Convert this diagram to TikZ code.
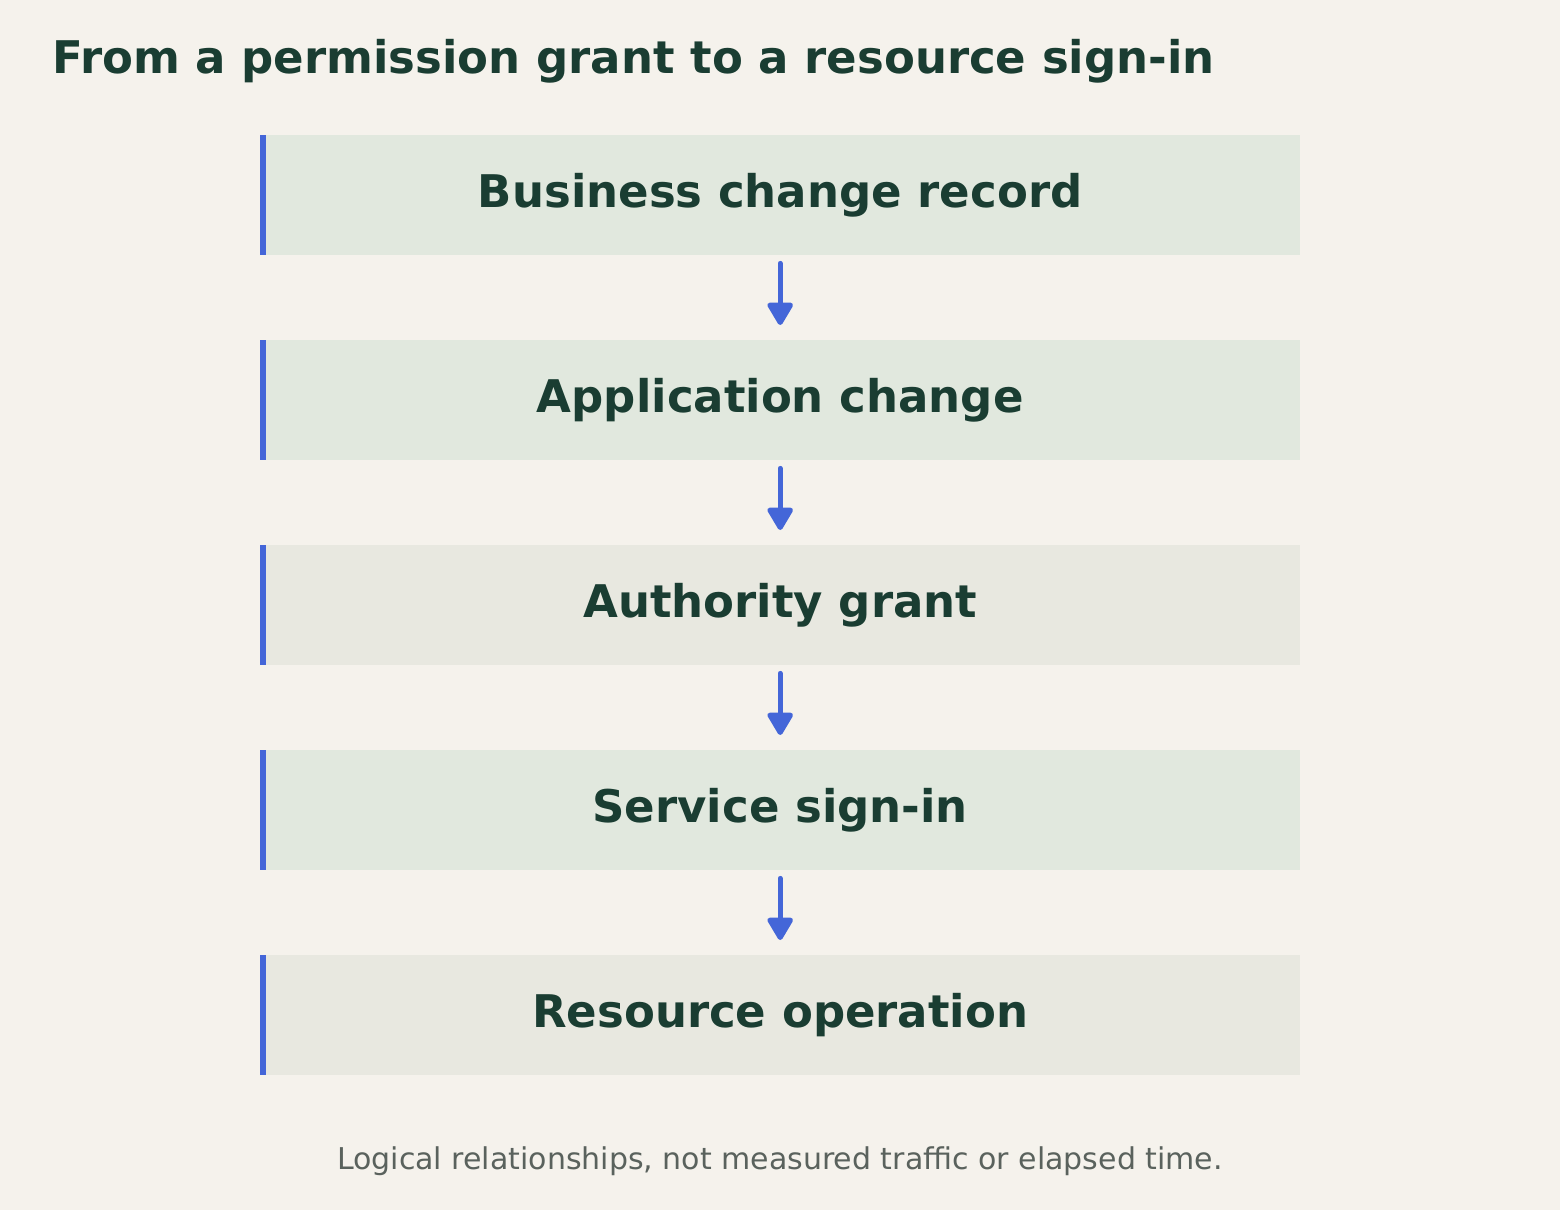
\documentclass[tikz,border=0pt]{standalone}
\usepackage{fontspec}
\setmainfont{DejaVu Sans}
\usetikzlibrary{arrows.meta}
\definecolor{bg}{HTML}{F5F2EC}
\definecolor{boxgreen}{HTML}{E1E8DE}
\definecolor{boxgray}{HTML}{E8E8E0}
\definecolor{ink}{HTML}{1A3D32}
\definecolor{accent}{HTML}{4466D8}
\definecolor{muted}{HTML}{5A625D}
\begin{document}
\begin{tikzpicture}[x=1pt,y=-1pt,
  stagebox/.style={draw=none,minimum width=1040pt,minimum height=120pt,inner sep=0pt,anchor=north west},
  stagetext/.style={font=\fontsize{45}{52}\selectfont\bfseries,text=ink},
  flowarrow/.style={draw=accent,line width=5pt,line cap=round,
    -{Triangle[width=28pt,length=25pt,round]}, shorten <=8pt, shorten >=15pt}
]
\useasboundingbox[fill=bg] (0,0) rectangle (1560,1210);
\node[anchor=base west,font=\fontsize{45}{52}\selectfont\bfseries,text=ink,inner sep=0pt] (title) at (52,73) {From a permission grant to a resource sign-in};
\node[stagebox,fill=boxgreen] (b1) at (260,135) {};
\node[stagebox,fill=boxgreen] (b2) at (260,340) {};
\node[stagebox,fill=boxgray] (b3) at (260,545) {};
\node[stagebox,fill=boxgreen] (b4) at (260,750) {};
\node[stagebox,fill=boxgray] (b5) at (260,955) {};
\foreach \b/\t in {b1/Business change record,b2/Application change,b3/Authority grant,b4/Service sign-in,b5/Resource operation}{
  \fill[accent] (\b.north west) rectangle ([xshift=6pt]\b.south west);
  \node[stagetext] (\b-label) at (\b.center) {\t};
}
\foreach \a/\c in {b1/b2,b2/b3,b3/b4,b4/b5}{
  \draw[flowarrow] (\a.south) -- (\c.north);
}
\node[font=\fontsize{30}{36}\selectfont,text=muted] (foot) at (780,1161) {Logical relationships, not measured traffic or elapsed time.};
\end{tikzpicture}
\end{document}
